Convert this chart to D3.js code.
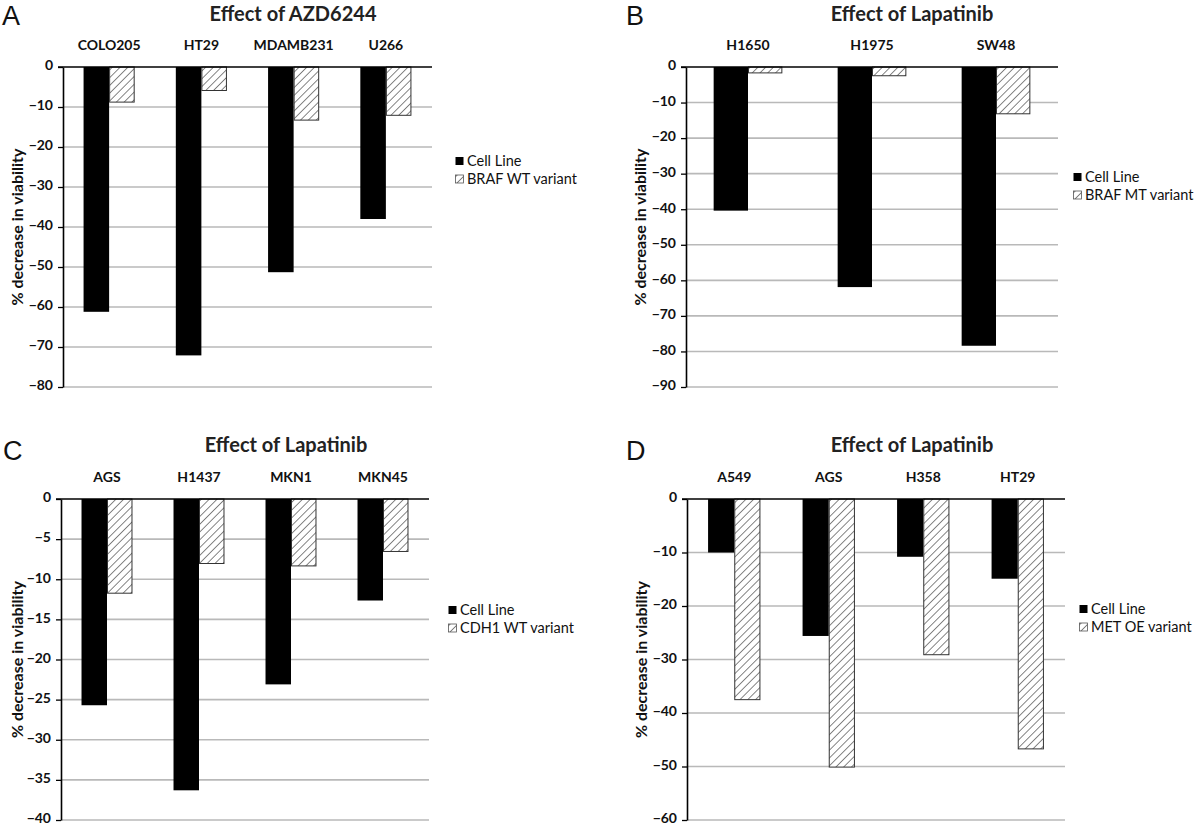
<!DOCTYPE html>
<html><head><meta charset="utf-8">
<script src="https://cdn.jsdelivr.net/npm/d3@7/dist/d3.min.js"></script>
<style>body{margin:0;background:#fff}svg{display:block}</style>
</head><body>
<svg id="chart" width="1200" height="827"></svg>
<script>
// ---------- data ----------
const seriesCellLine = "Cell Line";

const titleA = "Effect of AZD6244";
const catsA = ["COLO205", "HT29", "MDAMB231", "U266"];
const cellLineA = [-61.2, -72.1, -51.3, -38.0];
const variantA = [-8.9, -6.0, -13.4, -12.2];
const variantNameA = "BRAF WT variant";
const ticksA = [0, -10, -20, -30, -40, -50, -60, -70, -80];

const titleB = "Effect of Lapatinib";
const catsB = ["H1650", "H1975", "SW48"];
const cellLineB = [-40.4, -61.9, -78.4];
const variantB = [-1.8, -2.6, -13.3];
const variantNameB = "BRAF MT variant";
const ticksB = [0, -10, -20, -30, -40, -50, -60, -70, -80, -90];

const titleC = "Effect of Lapatinib";
const catsC = ["AGS", "H1437", "MKN1", "MKN45"];
const cellLineC = [-25.7, -36.3, -23.1, -12.65];
const variantC = [-11.8, -8.1, -8.4, -6.6];
const variantNameC = "CDH1 WT variant";
const ticksC = [0, -5, -10, -15, -20, -25, -30, -35, -40];

const titleD = "Effect of Lapatinib";
const catsD = ["A549", "AGS", "H358", "HT29"];
const cellLineD = [-10.0, -25.6, -10.8, -14.9];
const variantD = [-37.6, -50.2, -29.2, -46.8];
const variantNameD = "MET OE variant";
const ticksD = [0, -10, -20, -30, -40, -50, -60];

const yAxisTitle = "% decrease in viability";

// ---------- layout ----------
const panels = [
  {letter: "A", title: titleA, cats: catsA, cell: cellLineA, variant: variantA, vname: variantNameA, ticks: ticksA,
   lx: 2, ly: 25, tx: 293, ty: 21, x0: 63, x1: 432, y0: 67, y1: 387, legX: 455, legY: 161, ytX: 17},
  {letter: "B", title: titleB, cats: catsB, cell: cellLineB, variant: variantB, vname: variantNameB, ticks: ticksB,
   lx: 626, ly: 25, tx: 912, ty: 21, x0: 686, x1: 1058, y0: 67, y1: 387, legX: 1073, legY: 177, ytX: 640},
  {letter: "C", title: titleC, cats: catsC, cell: cellLineC, variant: variantC, vname: variantNameC, ticks: ticksC,
   lx: 3, ly: 460, tx: 286, ty: 452, x0: 61, x1: 429, y0: 499, y1: 820, legX: 448, legY: 610, ytX: 17},
  {letter: "D", title: titleD, cats: catsD, cell: cellLineD, variant: variantD, vname: variantNameD, ticks: ticksD,
   lx: 626, ly: 460, tx: 912, ty: 452, x0: 687, x1: 1065, y0: 499, y1: 820, legX: 1079, legY: 609, ytX: 641}
];

const svg = d3.select("#chart");
const defs = svg.append("defs");
const pat = defs.append("pattern").attr("id", "hatch")
  .attr("patternUnits", "userSpaceOnUse").attr("width", 5.5).attr("height", 5.5)
  .attr("patternTransform", "rotate(45)");
pat.append("rect").attr("width", 5.5).attr("height", 5.5).attr("fill", "#fff");
pat.append("line").attr("x1", 0).attr("y1", 0).attr("x2", 0).attr("y2", 5.5)
  .attr("stroke", "#444").attr("stroke-width", 1.3);

const FONT = "Lato, 'Open Sans', sans-serif";

panels.forEach(p => {
  const g = svg.append("g");
  const y = d3.scaleLinear().domain([d3.min(p.ticks), 0]).range([p.y1, p.y0]);
  const x = d3.scaleBand().domain(p.cats).range([p.x0, p.x1]).paddingInner(0.446).paddingOuter(0.223);
  const xs = d3.scaleBand().domain(["cell", "variant"]).range([0, x.bandwidth()]);

  // gridlines
  g.append("g").selectAll("line").data(p.ticks.filter(t => t !== 0)).join("line")
    .attr("x1", p.x0).attr("x2", p.x1).attr("y1", d => y(d)).attr("y2", d => y(d))
    .attr("stroke", "#b9b9b9").attr("stroke-width", 1.6);

  // bars
  const rows = p.cats.map((c, i) => ({cat: c, cell: p.cell[i], variant: p.variant[i]}));
  g.append("g").selectAll("rect.cell").data(rows).join("rect")
    .attr("x", d => x(d.cat) + xs("cell")).attr("width", xs.bandwidth())
    .attr("y", y(0)).attr("height", d => y(d.cell) - y(0))
    .attr("fill", "#000");
  g.append("g").selectAll("rect.var").data(rows).join("rect")
    .attr("x", d => x(d.cat) + xs("variant") + 0.5).attr("width", xs.bandwidth() - 1)
    .attr("y", y(0)).attr("height", d => y(d.variant) - y(0) - 0.5)
    .attr("fill", "url(#hatch)").attr("stroke", "#333").attr("stroke-width", 1);

  // y axis
  const ax = g.append("g").attr("transform", `translate(${p.x0},0)`)
    .call(d3.axisLeft(y).tickValues(p.ticks).tickSize(5).tickPadding(5).tickSizeOuter(0));
  ax.select(".domain").attr("stroke", "#000").attr("stroke-width", 1.6);
  ax.selectAll(".tick line").attr("stroke", "#000").attr("stroke-width", 1.3);
  ax.selectAll(".tick text").attr("font-family", FONT).attr("font-weight", "bold")
    .attr("font-size", 14).attr("fill", "#111").attr("dy", "0.2em");

  // zero line (category axis)
  g.append("line").attr("x1", p.x0 - 5).attr("x2", p.x1).attr("y1", y(0)).attr("y2", y(0))
    .attr("stroke", "#000").attr("stroke-width", 1.6);

  // category labels
  g.append("g").selectAll("text").data(p.cats).join("text")
    .attr("x", d => x(d) + x.bandwidth() / 2).attr("y", y(0) - 17)
    .attr("text-anchor", "middle").attr("font-family", FONT).attr("font-weight", "bold")
    .attr("font-size", 14).attr("fill", "#111").text(d => d);

  // title
  g.append("text").attr("x", p.tx).attr("y", p.ty).attr("text-anchor", "middle")
    .attr("font-family", FONT).attr("font-weight", "bold").attr("font-size", 20)
    .attr("fill", "#222").text(p.title);

  // panel letter
  g.append("text").attr("x", p.lx).attr("y", p.ly)
    .attr("font-family", "'Liberation Sans', Arial, sans-serif").attr("font-size", 27)
    .attr("fill", "#111").text(p.letter);

  // y axis title
  g.append("text").attr("transform", `translate(${p.ytX},${(p.y0 + p.y1) / 2}) rotate(-90)`)
    .attr("text-anchor", "middle").attr("dy", "0.35em")
    .attr("font-family", FONT).attr("font-weight", "bold").attr("font-size", 16)
    .attr("fill", "#111").text(yAxisTitle);

  // legend
  const leg = g.append("g").attr("transform", `translate(${p.legX},${p.legY})`);
  const items = [{name: seriesCellLine, fill: "#000", stroke: "none"},
                 {name: p.vname, fill: "url(#hatch)", stroke: "#555"}];
  items.forEach((it, i) => {
    leg.append("rect").attr("x", 0.5).attr("y", i * 18 - 4).attr("width", 8).attr("height", 8)
      .attr("fill", it.fill).attr("stroke", it.stroke).attr("stroke-width", 0.8);
    leg.append("text").attr("x", 12).attr("y", i * 18).attr("dy", "0.35em")
      .attr("font-family", FONT).attr("font-size", 14.5).attr("fill", "#111").text(it.name);
  });
});
</script>
</body></html>
